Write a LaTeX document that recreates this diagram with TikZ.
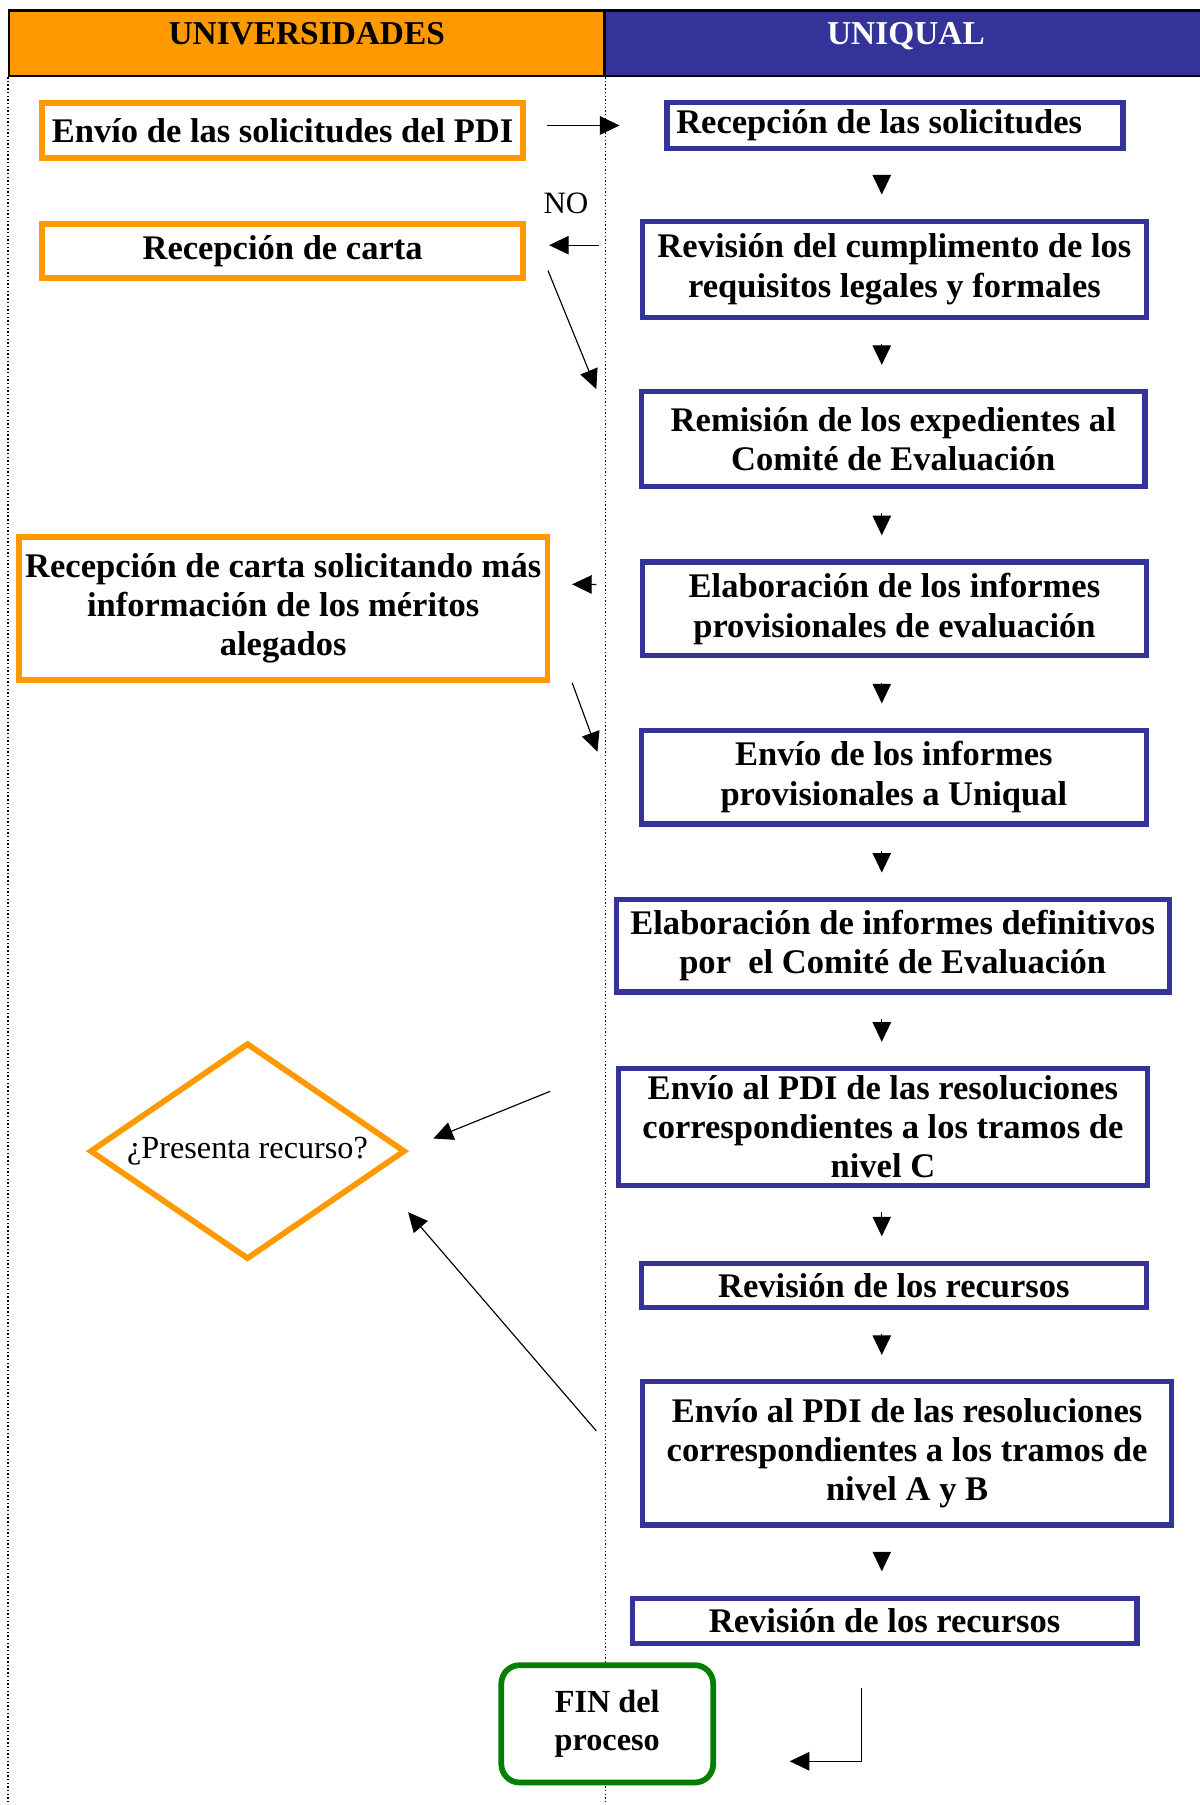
\documentclass[tikz,border=0pt]{standalone}
\usepackage{fontspec}
\setmainfont{Liberation Serif}
\usetikzlibrary{arrows.meta,shapes.geometric}
\definecolor{uorange}{HTML}{FF9900}
\definecolor{ublue}{HTML}{333399}
\definecolor{ugreen}{HTML}{008000}
\begin{document}
\begin{tikzpicture}[x=0.5pt, y=-0.5pt,
	txt/.style={font=\bfseries\fontsize{15}{17}\selectfont, align=center},
	hdr/.style={draw, line width=1pt, anchor=north west, minimum height=28.5pt, text height=10pt, text depth=8.5pt, font=\bfseries\fontsize{14.5}{17}\selectfont},
	uni/.style={txt, draw=uorange, line width=2.5pt, fill=white, inner sep=2pt},
	unq/.style={txt, draw=ublue, line width=2.3pt, fill=white, inner xsep=2pt, inner ysep=1pt},
	arr/.style={-{Triangle[length=8.5pt,width=8pt]}, line width=0.5pt},
	varr/.style={arr, shorten <=10.5pt, shorten >=10.5pt},
	lane/.style={densely dotted, line width=0.6pt}]
	\useasboundingbox (0,0) rectangle (1042,1568);
	\node (hdrl) [hdr, fill=uorange, minimum width=258.5pt] at (7,8) {UNIVERSIDADES};
	\node (hdrr) [hdr, fill=ublue, text=white, minimum width=262pt] at (524,8) {UNIQUAL};
	\draw[lane] (hdrl.south west) -- ++(0,1503);
	\draw[lane] (hdrl.south east) -- ++(0,1503);
	\coordinate (ax) at (766,0);

	\node (env) [uni, minimum width=209pt, minimum height=24pt] at (245.5,113.5) {Envío de las solicitudes del PDI};
	\node (carta) [uni, minimum width=209pt, minimum height=23.5pt] at (245.5,218) {Recepción de carta};
	\node (cartamas) [uni, minimum width=229.5pt, minimum height=62pt] at (246,528.5) {Recepción de carta solicitando más\\información de los méritos\\alegados};
	\node (recurso) [diamond, aspect=1.45, draw=uorange, line width=2.5pt, inner sep=0pt, minimum width=137pt, minimum height=94pt, font=\fontsize{14}{16}\selectfont] at (215,1000) {¿Presenta recurso?};
	\node (fin) [txt, draw=ugreen, line width=2.5pt, rounded corners=8pt, fill=white, minimum width=92pt, minimum height=51pt, font=\bfseries\fontsize{14}{16.5}\selectfont] at (527.5,1497.5) {FIN del\\proceso};

	\node (recsol) [unq, text width=190pt, align=flush left, inner xsep=4pt, minimum height=19.7pt] at (777.5,109) {Recepción de las solicitudes};
	\node (revis) [unq, minimum width=218.7pt, minimum height=41.7pt] at (777,234) {Revisión del cumplimento de los\\requisitos legales y formales};
	\node (remis) [unq, minimum width=218.7pt, minimum height=41.2pt] at (776,381.5) {Remisión de los expedientes al\\Comité de Evaluación};
	\node (elab) [unq, minimum width=218.7pt, minimum height=40.7pt] at (777,529) {Elaboración de los informes\\provisionales de evaluación};
	\node (envinf) [unq, minimum width=219.2pt, minimum height=40.7pt] at (776.5,675) {Envío de los informes\\provisionales a Uniqual};
	\node (elabdef) [unq, minimum width=240.2pt, minimum height=40.2pt] at (775.5,821.5) {Elaboración de informes definitivos\\por\ \ el Comité de Evaluación};
	\node (envc) [unq, minimum width=229.7pt, minimum height=50.7pt] at (767,979) {Envío al PDI de las resoluciones\\correspondientes a los tramos de\\nivel C};
	\node (revrec1) [unq, minimum width=219.2pt, minimum height=19.2pt] at (776.5,1116.5) {Revisión de los recursos};
	\node (envab) [unq, minimum width=229.7pt, minimum height=62.2pt] at (788,1262.5) {Envío al PDI de las resoluciones\\correspondientes a los tramos de\\nivel A y B};
	\node (revrec2) [unq, minimum width=219.2pt, minimum height=19.7pt] at (768.5,1408) {Revisión de los recursos};

	\draw[varr] (recsol.south -| ax) -- (revis.north -| ax);
	\draw[varr] (revis.south -| ax) -- (remis.north -| ax);
	\draw[varr] (remis.south -| ax) -- (elab.north -| ax);
	\draw[varr] (elab.south -| ax) -- (envinf.north -| ax);
	\draw[varr] (envinf.south -| ax) -- (elabdef.north -| ax);
	\draw[varr] (elabdef.south -| ax) -- (envc.north -| ax);
	\draw[varr] (envc.south -| ax) -- (revrec1.north -| ax);
	\draw[varr] (revrec1.south -| ax) -- (envab.north -| ax);
	\draw[varr] (envab.south -| ax) -- (revrec2.north -| ax);

	\draw[arr, shorten <=9pt, shorten >=19.5pt] (env.east |- recsol.west) -- (recsol.west);
	\draw[arr, shorten <=18pt, shorten >=10pt] ([yshift=2.5pt]revis.west |- carta.east) to node [pos=0.65, above=10pt, font=\fontsize{13.5}{15}\selectfont] {NO} ([yshift=2.5pt]carta.east);
	\draw[arr] ([xshift=9.5pt,yshift=-8.5pt]carta.east) -- ([xshift=-18.5pt]remis.north west);
	\draw[arr, shorten <=19pt, shorten >=9.5pt] ([yshift=10.5pt]elab.west) -- ([yshift=10.5pt]cartamas.east);
	\draw[arr] ([xshift=9.5pt]cartamas.south east) -- ([xshift=-18pt,yshift=-10.5pt]envinf.north west);
	\draw[arr] ([xshift=-28.5pt,yshift=15.5pt]envc.west) -- ([xshift=11pt,yshift=5.5pt]recurso.east);
	\draw[arr] ([xshift=-19pt,yshift=9.75pt]envab.west) -- ([yshift=-26.5pt]recurso.east);
	\draw[arr] ([xshift=-10pt,yshift=-18pt]revrec2.south) |- ([xshift=32pt,yshift=-16.25pt]fin.east);
\end{tikzpicture}
\end{document}
